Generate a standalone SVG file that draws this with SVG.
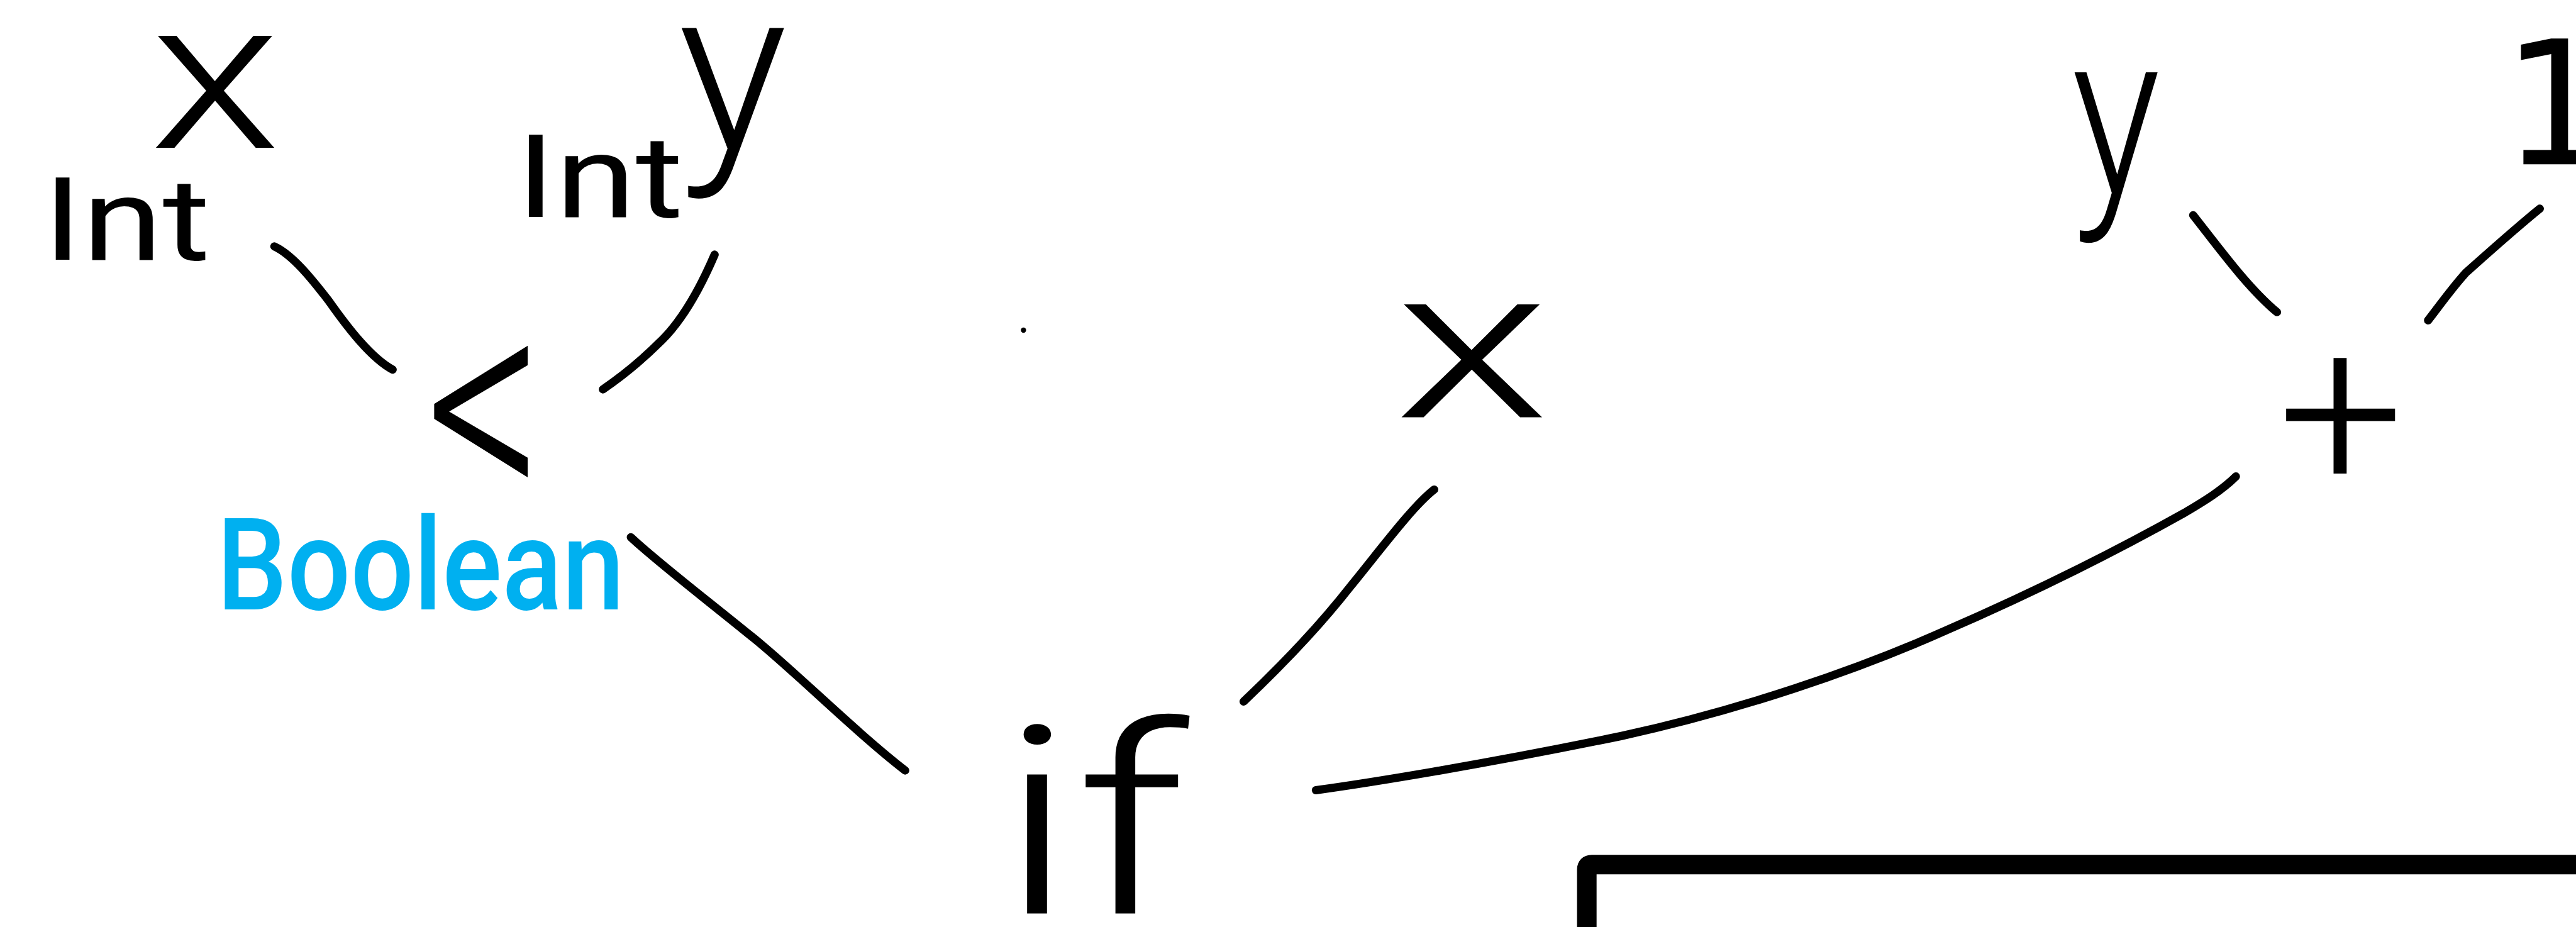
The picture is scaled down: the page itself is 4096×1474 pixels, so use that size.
<svg xmlns="http://www.w3.org/2000/svg" width="4096" height="1474" viewBox="0 0 4096 1474">
<style>
.hand{font-family:Roboto,"Liberation Sans",sans-serif;fill:#000}
.light{font-weight:300}
.one{font-family:"DejaVu Sans","Liberation Sans",sans-serif;fill:#000}
.blue{font-family:Roboto,"Liberation Sans",sans-serif;fill:#00b0f0;font-weight:500}
.conn{fill:none;stroke:#000;stroke-linecap:round;stroke-linejoin:round;stroke-width:5}
.frame{fill:none;stroke:#000;stroke-width:11.9}
</style>
<rect width="4096" height="1474" fill="#fff"/>
<g transform="scale(2.6122)">
<g id="node-x-left"><text class="hand light" x="131" y="90" font-size="129" text-anchor="middle" textLength="80" lengthAdjust="spacingAndGlyphs">x</text></g>
<g id="node-int-left"><text class="hand" x="26" y="158" font-size="70" textLength="102" lengthAdjust="spacingAndGlyphs">Int</text></g>
<g id="node-y-mid"><text class="hand light" x="446" y="91" font-size="140" text-anchor="middle">y</text></g>
<g id="node-int-mid"><text class="hand" x="314" y="132" font-size="70" textLength="102" lengthAdjust="spacingAndGlyphs">Int</text></g>
<g id="node-lt"><text class="hand light" x="295" y="312" font-size="192" text-anchor="middle" textLength="72" lengthAdjust="spacingAndGlyphs">&lt;</text></g>
<g id="node-boolean"><text class="blue" x="132" y="371" font-size="78" textLength="248" lengthAdjust="spacingAndGlyphs">Boolean</text></g>
<g id="node-dot"><circle cx="623" cy="201" r="1.6" fill="#000"/></g>
<g id="node-x-right"><text class="hand light" x="896" y="254" font-size="130" text-anchor="middle" textLength="95" lengthAdjust="spacingAndGlyphs">x</text></g>
<g id="node-if"><text class="hand light" x="608" y="556" font-size="160" textLength="115" lengthAdjust="spacingAndGlyphs">if</text></g>
<g id="node-plus"><text class="hand light" x="1425" y="298" font-size="136" text-anchor="middle">+</text></g>
<g id="node-y-right"><text class="hand light" x="1288" y="118" font-size="140" text-anchor="middle" textLength="54" lengthAdjust="spacingAndGlyphs">y</text></g>
<g id="node-one"><text class="one" x="1523" y="100" font-size="105">1</text></g>
<g id="node-frame"><path class="frame" d="M965.9,600 V529.3 Q965.9,526.3 968.9,526.3 H1600"/></g>
<g id="connectors">
<path class="conn" d="M167,150 C178,155 190,170 200,183 C212,200 226,218 239,225"/>
<path class="conn" d="M435,155 Q420,190 403,207 T367,237"/>
<path class="conn" d="M384,327 C400,342 430,365 457,387 C480,405 520,445 551,469"/>
<path class="conn" stroke-width="4" d="M873,298 C860,308 840,335 822,357 C800,385 775,410 757,427"/>
<path class="conn" d="M801,481 C830,477 900,466 987,448 C1060,432 1130,408 1184,384 C1230,364 1280,340 1330,312 C1340,306 1352,299 1361,290"/>
<path class="conn" d="M1335,131 C1350,150 1368,175 1386,190"/>
<path class="conn" d="M1546,127 C1530,140 1510,158 1501,166 C1492,176 1485,186 1478,195"/>
</g>
</g>
</svg>
